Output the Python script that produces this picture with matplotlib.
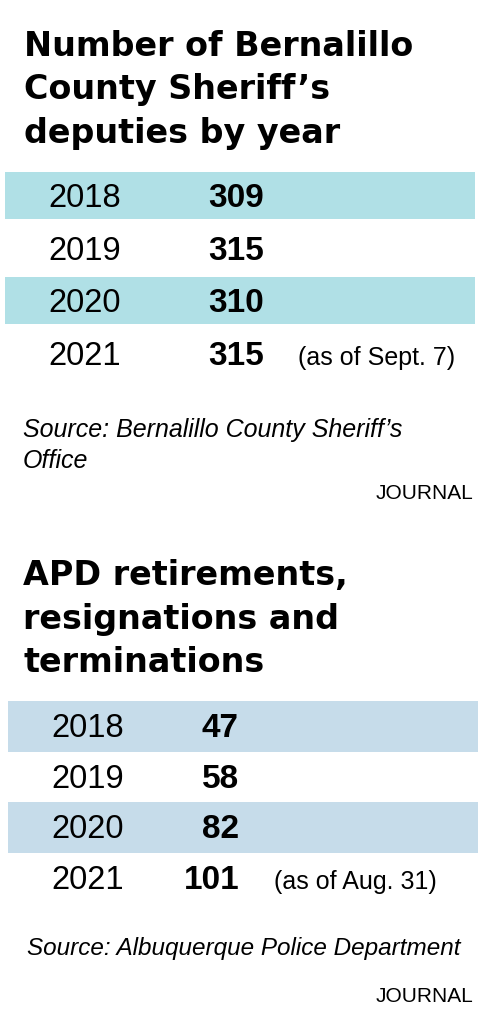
import matplotlib
matplotlib.use("Agg")
import matplotlib.pyplot as plt
from matplotlib.patches import Rectangle

"""Data"""
years = ["2018", "2019", "2020", "2021"]
deputies = [309, 315, 310, 315]
deputies_notes = ["", "", "", "(as of Sept. 7)"]
apd_losses = [47, 58, 82, 101]
apd_notes = ["", "", "", "(as of Aug. 31)"]

title_top = ["Number of Bernalillo", "County Sheriff\u2019s", "deputies by year"]
source_top = ["Source: Bernalillo County Sheriff\u2019s", "Office"]
title_bottom = ["APD retirements,", "resignations and", "terminations"]
source_bottom = ["Source: Albuquerque Police Department"]
credit = "JOURNAL"

W, H = 504, 1024
fig = plt.figure(figsize=(W / 100, H / 100), dpi=100)
ax = fig.add_axes([0, 0, 1, 1])
ax.set_xlim(0, W)
ax.set_ylim(H, 0)
ax.axis("off")

font = ["Liberation Sans", "DejaVu Sans"]
heavy = ["DejaVu Sans"]


def lines(x, y0, step, texts, fam=font, **kw):
    """One text per line, placed by baseline"""
    for k, t in enumerate(texts):
        ax.text(x, y0 + k * step, t, family=fam, va="baseline", ha="left", **kw)


def table(y0, pitch, band_top, band_h, band_x, band_w, color,
          year_x, val_x, note_x, values, notes):
    """Draw striped rows of year / value / note"""
    for i, (yr, v, n) in enumerate(zip(years, values, notes)):
        base = y0 + i * pitch
        if i % 2 == 0:
            ax.add_patch(Rectangle((band_x, band_top + i * pitch), band_w, band_h,
                                   facecolor=color, edgecolor="none"))
        ax.text(year_x, base, yr, fontsize=23.5, family=font, va="baseline", ha="left")
        ax.text(val_x, base, str(v), fontsize=24, family=font, fontweight="bold",
                va="baseline", ha="right")
        if n:
            ax.text(note_x, base, n, fontsize=18, family=font, va="baseline", ha="left")


"""Top block"""
lines(24, 56, 43.5, title_top, fam=heavy, fontsize=24, fontweight="bold")
table(207, 52.7, 172, 47, 5, 470, "#b0e0e6", 48, 264, 298, deputies, deputies_notes)
lines(23, 437, 31, source_top, fontsize=18, style="italic")
ax.text(473, 499, credit, fontsize=15, family=font, va="baseline", ha="right")

"""Bottom block"""
lines(23, 585, 43.5, title_bottom, fam=heavy, fontsize=24, fontweight="bold")
table(737, 50.7, 701, 51, 8, 470, "#c6dcea", 51, 239, 274, apd_losses, apd_notes)
lines(27, 955, 31, source_bottom, fontsize=17.5, style="italic")
ax.text(473, 1002, credit, fontsize=15, family=font, va="baseline", ha="right")

plt.savefig("out.png", dpi=100)
